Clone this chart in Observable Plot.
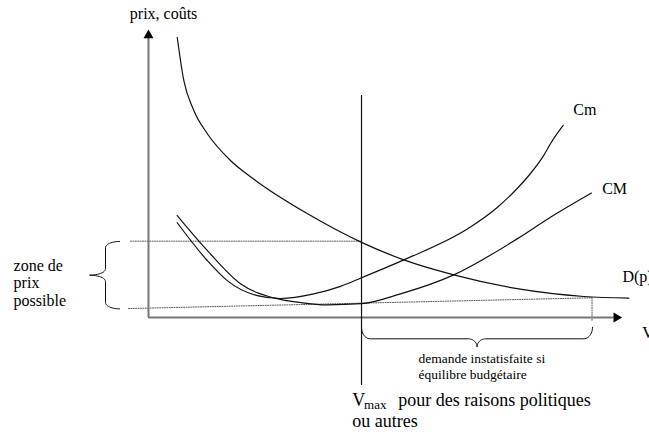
<!DOCTYPE html>
<html><head><meta charset="utf-8">
<script src="https://cdn.jsdelivr.net/npm/d3@7"></script>
<script src="https://cdn.jsdelivr.net/npm/@observablehq/plot@0.6"></script>
<style>body{margin:0;background:#fff}</style>
</head><body><div id="chart"></div>
<script>
// Demand curve D(p)
const demandX = [5.98, 7.35, 9.44, 12.23, 17.08, 22.29, 33.06, 44.38, 53.19, 63.6, 76.81, 90.69, 100.06];
const demandY = [97.3, 82.3, 71.9, 63.9, 54.5, 47.6, 36.1, 26.1, 20.0, 14.8, 10.0, 7.3, 6.7];
// Marginal cost Cm
const cmX = [5.98, 12.23, 16.4, 22.65, 27.5, 34.44, 40.0, 44.38, 53.19, 67.08, 72.65, 76.81, 79.58, 82.08, 84.17, 86.4];
const cmY = [32.9, 19.8, 12.8, 7.6, 6.6, 8.2, 10.8, 13.8, 20.0, 31.4, 38.2, 44.8, 50.0, 55.6, 61.5, 66.7];
// Average cost CM
const cMX = [5.98, 12.23, 19.17, 26.1, 31.67, 37.23, 44.38, 52.5, 63.6, 76.81, 83.75, 92.29];
const cMY = [35.4, 23.3, 11.7, 6.8, 5.2, 4.4, 4.8, 8.2, 14.8, 27.3, 34.8, 43.2];
// Key levels
const vmax = 44.38;
const priceHigh = 26.5;
const priceLow = [3.1, 6.84];
const volumeEnd = 92.4;
const curveNames = ["Cm", "CM", "D(p)"];
const axisNames = ["prix, coûts", "V"];
const zoneText = "zone de\nprix\npossible";
const unmetText = "demande instatisfaite si\néquilibre budgétaire";
const vmaxText = ["V", "max", "pour des raisons politiques", "ou autres"];

const toPts = (xs, ys) => xs.map((x, i) => ({x, y: ys[i]}));
const demand = toPts(demandX, demandY);
const cm = toPts(cmX, cmY);
const cM = toPts(cMX, cMY);

function arc(cx, cy, a, b, t0, t1, n = 12) {
  const out = [];
  for (let k = 0; k <= n; k++) {
    const t = (t0 + (t1 - t0) * k / n) * Math.PI / 180;
    out.push({x: cx + a * Math.cos(t), y: cy + b * Math.sin(t)});
  }
  return out;
}
function vBrace(xEnd, xSpine, xTip, yTop, yBot, ry) {
  const ym = (yTop + yBot) / 2;
  return [
    ...arc(xEnd, yTop - ry, xEnd - xSpine, ry, 90, 180),
    ...arc(xTip, ym + ry, xSpine - xTip, ry, 0, -90),
    ...arc(xTip, ym - ry, xSpine - xTip, ry, 90, 0),
    ...arc(xEnd, yBot + ry, xEnd - xSpine, ry, 180, 270)
  ];
}
function hBrace(yEnd, ySpine, yTip, xL, xR, rx) {
  const xm = (xL + xR) / 2;
  return [
    ...arc(xL + rx, yEnd, rx, yEnd - ySpine, 180, 270),
    ...arc(xm - rx, yTip, rx, ySpine - yTip, 90, 0),
    ...arc(xm + rx, yTip, rx, ySpine - yTip, 180, 90),
    ...arc(xR - rx, yEnd, rx, yEnd - ySpine, 270, 360)
  ];
}

const serif = "Liberation Serif, Times New Roman, serif";
const ink = "#111";
const dotted = {stroke: "#555", strokeWidth: 1, strokeDasharray: "1,1.4"};
const txt = (data, o) => Plot.text(data, {text: d => d, textAnchor: "start", lineAnchor: "bottom", fontFamily: serif, fill: "#000", ...o});

const chart = Plot.plot({
  width: 649, height: 432,
  marginLeft: 148, marginRight: 21, marginTop: 29, marginBottom: 115,
  x: {domain: [0, 100], axis: null},
  y: {domain: [0, 100], axis: null},
  style: {background: "#fff", overflow: "visible"},
  marks: [
    // dotted guides
    Plot.line([{x: -3.75, y: priceHigh}, {x: vmax, y: priceHigh}], {x: "x", y: "y", ...dotted}),
    Plot.line([{x: -4.17, y: priceLow[0]}, {x: volumeEnd, y: priceLow[1]}], {x: "x", y: "y", ...dotted}),
    Plot.line([{x: volumeEnd, y: priceLow[1]}, {x: volumeEnd, y: -1}], {x: "x", y: "y", ...dotted}),
    // axes
    Plot.ruleX([0], {y1: 0, y2: 97.5, stroke: "#777", strokeWidth: 2}),
    Plot.ruleY([0], {x1: 0, x2: 97, stroke: "#777", strokeWidth: 2}),
    Plot.dot([{x: 0, y: 98.0}], {x: "x", y: "y", symbol: "triangle", r: 3.7, fill: "#000", stroke: null}),
    Plot.dot([{x: 97.48, y: 0}], {x: "x", y: "y", symbol: "triangle", r: 3.7, rotate: 90, fill: "#000", stroke: null}),
    // Vmax
    Plot.ruleX([vmax], {y1: 77.1, y2: -23.6, stroke: ink, strokeWidth: 1.2}),
    // curves
    Plot.line(demand, {x: "x", y: "y", curve: "monotone-x", stroke: ink, strokeWidth: 1.2}),
    Plot.line(cm, {x: "x", y: "y", curve: "monotone-x", stroke: ink, strokeWidth: 1.2}),
    Plot.line(cM, {x: "x", y: "y", curve: "monotone-x", stroke: ink, strokeWidth: 1.2}),
    // braces
    Plot.line(vBrace(-6.04, -8.96, -12.3, 26.4, 3.0, 2.2), {x: "x", y: "y", stroke: ink, strokeWidth: 1}),
    Plot.line(hBrace(-3.4, -7.4, -10.2, vmax, 92.5, 1.8), {x: "x", y: "y", stroke: ink, strokeWidth: 1}),
    // curve labels
    txt([curveNames[0]], {x: () => cmX[cmX.length - 1], y: () => cmY[cmY.length - 1], dx: 10, dy: -10, fontSize: 16}),
    txt([curveNames[1]], {x: () => cMX[cMX.length - 1], y: () => cMY[cMY.length - 1], dx: 10.7, dy: 0.5, fontSize: 16}),
    txt([curveNames[2]], {x: () => demandX[demandX.length - 1], y: () => demandY[demandY.length - 1], dx: -6.3, dy: -16.7, fontSize: 16}),
    // axis titles
    txt([axisNames[0]], {x: () => 0, y: () => 100, dx: -18.7, dy: -11, fontSize: 16}),
    txt([axisNames[1]], {x: () => 98.7, y: () => 0, dx: 20, dy: 20, fontSize: 16}),
    // annotations
    txt([zoneText], {x: () => -28.1, y: () => 4.0, fontSize: 16, lineHeight: 1.1}),
    txt([unmetText], {x: () => 56.25, y: () => -21.5, fontSize: 13.5, lineHeight: 1.185}),
    txt([vmaxText[0]], {x: () => vmax, y: () => -30.9, dx: -9.3, fontSize: 18}),
    txt([vmaxText[1]], {x: () => vmax, y: () => -30.9, dx: 2.5, dy: 3, fontSize: 13}),
    txt([vmaxText[2]], {x: () => 52.85, y: () => -30.9, dx: -4, fontSize: 18}),
    txt([vmaxText[3]], {x: () => vmax, y: () => -38.1, dx: -9.3, fontSize: 18})
  ]
});
document.getElementById("chart").appendChild(chart);
</script>
</body></html>
